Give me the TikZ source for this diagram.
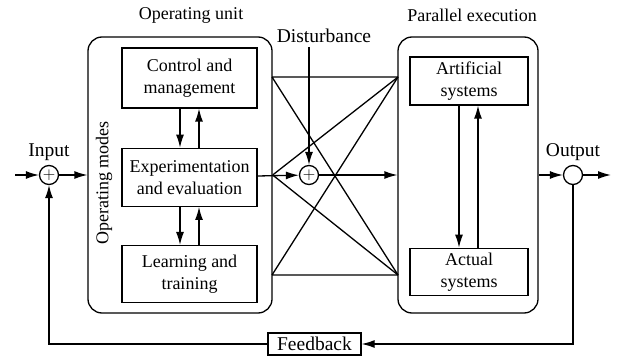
\documentclass[tikz,border=0pt]{standalone}
\usepackage{fontspec}
\setmainfont{Liberation Serif}
\usetikzlibrary{shapes,arrows,arrows.meta,positioning,calc}
\tikzstyle{line} = [draw, -{Latex[length=13pt,width=8pt]}]
\tikzstyle{block} = [draw, rectangle, align=center, inner sep=0pt]
\tikzstyle{frame} = [draw, rectangle, rounded corners=14pt, minimum height=276pt]
\tikzstyle{sum} = [draw, circle, minimum size=19pt, inner sep=0pt, font=\fontsize{19}{19}\selectfont]
\tikzstyle{tag} = [font=\fontsize{19.5}{23}\selectfont]

\begin{document}
\begin{tikzpicture}[x=1pt, y=-1pt, line width=1.3pt, font=\fontsize{18}{22}\selectfont]
    \useasboundingbox (0,0) rectangle (618,358);

    % the two rounded units
    \node [frame, minimum width=184pt] (unit) at (180,175) {};
    \node [frame, minimum width=140pt] (par) at (468,175) {};
    \node (unittitle) at (191,15) {Operating unit};
    \node (partitle) at (472,15) {Parallel execution};
    \node [rotate=90] (modes) at (104,183) {Operating modes};

    % operating modes
    \node [block, minimum width=135pt, minimum height=60pt] (ctrl) at (189.5,78) {Control and\\management};
    \node [block, minimum width=135pt, minimum height=58pt, below=39pt of ctrl] (exp) {Experimentation\\and evaluation};
    \node [block, minimum width=135pt, minimum height=57pt, below=38pt of exp] (learn) {Learning and\\training};

    % parallel systems
    \node [block, minimum width=118pt, minimum height=48pt] (art) at (469,81) {Artificial\\systems};
    \node [block, minimum width=118pt, minimum height=47pt, below=142pt of art] (act) {Actual\\systems};

    \path [line] ([xshift=-9.5pt]ctrl.south) -- ([xshift=-9.5pt]exp.north);
    \path [line] ([xshift=9.5pt]exp.north) -- ([xshift=9.5pt]ctrl.south);
    \path [line] ([xshift=-9.5pt]exp.south) -- ([xshift=-9.5pt]learn.north);
    \path [line] ([xshift=9.5pt]learn.north) -- ([xshift=9.5pt]exp.south);
    \path [line] ([xshift=-10pt]art.south) -- ([xshift=-10pt]act.north);
    \path [line] ([xshift=9pt]act.north) -- ([xshift=9pt]art.south);

    % crossing links
    \coordinate (ul) at (272,77);
    \coordinate (ll) at (272,275);
    \coordinate (ur) at (398,77);
    \coordinate (lr) at (398,275);
    \draw (ul) -- (ur) (ll) -- (lr) (ul) -- (lr) (ll) -- (ur);
    \draw (unit.east) -- (ur) (unit.east) -- (lr);

    % disturbance
    \node [sum] (dsum) at (309,175) {$+$};
    \node [tag] (dist) at (324,36) {Disturbance};
    \path [line] (dist.south -| dsum) -- (dsum);
    \path [line] (exp) -- (dsum);
    \path [line] (dsum) -- (par);

    % input and output
    \coordinate (in) at (15,175);
    \coordinate (out) at (611,175);
    \node [sum] (insum) at (49,175) {$+$};
    \node [sum] (outsum) at (573,175) {};
    \node [tag, above=0pt of insum] (inlab) {Input};
    \node [tag, above=0pt of outsum] (outlab) {Output};
    \path [line] (in) -- (insum);
    \path [line] (insum) -- (unit);
    \path [line] (par) -- (outsum);
    \path [line] (outsum) -- (out);

    % feedback
    \node [block, tag, minimum width=93pt, minimum height=22pt] (fb) at (314.5,344) {Feedback};
    \path [line] (outsum) |- (fb);
    \path [line] (fb) -| (insum);
\end{tikzpicture}
\end{document}
